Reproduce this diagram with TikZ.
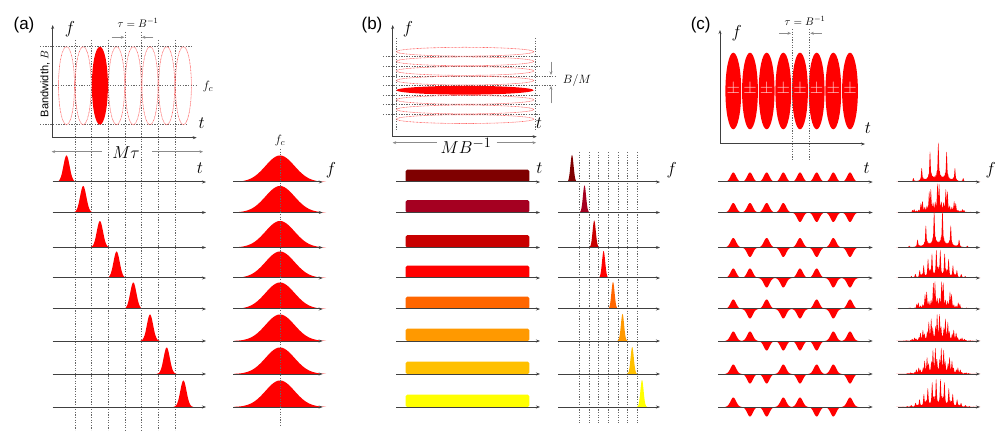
\documentclass[tikz,border=0pt]{standalone}
\usepackage{fontspec}
\setsansfont{Liberation Sans}
\usetikzlibrary{arrows.meta}
\definecolor{rA}{HTML}{7F0000}
\definecolor{rB}{HTML}{A50021}
\definecolor{rC}{HTML}{C80000}
\definecolor{rD}{HTML}{FF0000}
\definecolor{rE}{HTML}{FF6600}
\definecolor{rF}{HTML}{FF9900}
\definecolor{rG}{HTML}{FFC000}
\definecolor{rH}{HTML}{FFFF00}
\definecolor{axgray}{HTML}{404040}
\definecolor{pm}{RGB}{255,200,200}
\tikzset{
  ax/.style={draw=axgray, line width=1pt, -{Stealth[length=4pt,width=3pt]}},
  gridl/.style={draw=black!60, dash pattern=on 1.3pt off 1.3pt, line width=0.5pt},
  ell/.style={draw=red!60, dash pattern=on 0.8pt off 0.6pt, line width=0.6pt},
  gar/.style={draw=black!45, line width=0.6pt, -{Stealth[length=3.5pt,width=3pt]}},
  panel/.style={font=\sffamily\fontsize{17}{17}\selectfont, inner sep=0pt},
  axl/.style={font=\fontsize{17}{17}\selectfont, inner sep=0pt},
  biglbl/.style={font=\fontsize{19}{19}\selectfont, inner sep=1pt, fill=white},
  smalllbl/.style={font=\fontsize{11}{11}\selectfont, inner sep=0pt},
}
\newcommand\walshrow[9]{%
  \foreach \s [count=\k from 0] in {#2,#3,#4,#5,#6,#7,#8,#9}{%
    \pgfmathsetmacro\cx{733.3+16.67*\k}
    \fill[red] plot[domain=-8.5:8.5,samples=35] ({\cx+\x},{#1-9.5*(\s)*exp(-0.5*(\x/2.8)*(\x/2.8))}) -- cycle;
  }
  \pgfmathsetmacro\cA{0.9*((#2)*(#3)+(#3)*(#4)+(#4)*(#5)+(#5)*(#6)+(#6)*(#7)+(#7)*(#8)+(#8)*(#9))}
  \pgfmathsetmacro\cB{0.81*((#2)*(#4)+(#3)*(#5)+(#4)*(#6)+(#5)*(#7)+(#6)*(#8)+(#7)*(#9))}
  \pgfmathsetmacro\cC{0.729*((#2)*(#5)+(#3)*(#6)+(#4)*(#7)+(#5)*(#8)+(#6)*(#9))}
  \pgfmathsetmacro\cD{0.656*((#2)*(#6)+(#3)*(#7)+(#4)*(#8)+(#5)*(#9))}
  \pgfmathsetmacro\cE{0.59*((#2)*(#7)+(#3)*(#8)+(#4)*(#9))}
  \pgfmathsetmacro\cF{0.531*((#2)*(#8)+(#3)*(#9))}
  \pgfmathsetmacro\cG{0.478*((#2)*(#9))}
  \fill[red] plot[domain=-42:42,samples=841] ({938.3+\x},{#1-5.6*exp(-0.26*(\x/8.33)*(\x/8.33))*sqrt(max(0.0001,8+2*(
     \cA*cos(43.22*\x)+\cB*cos(86.44*\x)+\cC*cos(129.66*\x)+\cD*cos(172.88*\x)+\cE*cos(216.1*\x)+\cF*cos(259.32*\x)+\cG*cos(302.54*\x))))}) -- cycle;
  \draw[ax] (718.3,#1) -- (872.7,#1);
  \draw[ax] (898.3,#1) -- (980,#1);
}
\begin{document}
\begin{tikzpicture}[x=1pt,y=-1pt]
\useasboundingbox (0,0) rectangle (1003,435);

%% ================= Panel (a) =================
\node[panel] (la) at (24,25) {(a)};
% grid
\draw[gridl] (40,46.7) -- (193,46.7);
\draw[gridl] (52.7,85.7) -- (198,85.7);
\draw[gridl] (40,124.3) -- (187,124.3);
\foreach \j in {0,...,6}{
  \pgfmathsetmacro\gx{74.85+16.7*\j}
  \ifnum\j=3 \def\ys{32}\else\ifnum\j=4 \def\ys{32}\else\def\ys{40}\fi\fi
  \draw[gridl] (\gx,\ys) -- (\gx,430);
}
% ellipses
\foreach \i in {0,...,7}{
  \pgfmathsetmacro\cx{66.5+16.7*\i}
  \ifnum\i=2
    \fill[red] (\cx,85.7) ellipse [x radius=8, y radius=39];
  \else
    \draw[ell] (\cx,85.7) ellipse [x radius=8, y radius=39];
  \fi
}
\coordinate (aO) at (52.7,137.7);
\coordinate (aY) at (52.7,25);
\coordinate (aX) at (196.7,137.7);
\draw[ax] (aO) -- (aY);
\draw[ax] (aO) -- (aX);
\node[axl] (af) at (70,29) {$f$};
\node[axl] (at) at (201.7,123) {$t$};
\node[font=\fontsize{13}{13}\selectfont, inner sep=0pt] (afc) at (208,87) {$f_c$};
\node[rotate=90, font=\sffamily\fontsize{11}{11}\selectfont, inner sep=0pt] (abw) at (45,84) {Bandwidth, $B$};
\node[smalllbl] (atau) at (138,23) {$\tau = B^{-1}$};
\coordinate (ta1) at (111.7,37.3); \coordinate (ta2) at (124.3,37.3);
\coordinate (tb1) at (153.3,37.3); \coordinate (tb2) at (141.9,37.3);
\draw[gar] (ta1) -- (ta2);
\draw[gar] (tb1) -- (tb2);
% M tau
\node[biglbl] (aMt) at (126,153) {$M\tau$};
\coordinate (am1) at (101.7,151.7); \coordinate (am2) at (51.7,151.7);
\coordinate (am3) at (152,151.7); \coordinate (am4) at (203,151.7);
\draw[gar] (am1) -- (am2);
\draw[gar] (am3) -- (am4);
% rows
\node[font=\fontsize{13}{13}\selectfont, inner sep=0pt] (afc2) at (280,141) {$f_c$};
\foreach \y [count=\i from 0] in {182,212.5,247.5,278,309,341,374,407}{
  \pgfmathsetmacro\cx{66.5+16.7*\i}
  \fill[red] plot[domain=-10:10,samples=41] ({\cx+\x},{\y-26.5*exp(-0.5*(\x/3.1)*(\x/3.1))}) -- cycle;
  \draw[ax] (52.7,\y) -- (206,\y);
  \fill[red] plot[domain=-46:46,samples=93] ({280+\x},{\y-26.5*exp(-0.5*(\x/14.5)*(\x/14.5))}) -- cycle;
  \draw[ax] (233,\y) -- (322.7,\y);
}
\draw[gridl] (280,149) -- (280,427);
\node[axl] (at2) at (200,168) {$t$};
\node[axl] (af2) at (331,170) {$f$};

%% ================= Panel (b) =================
\node[panel] (lb) at (372,25) {(b)};
\foreach \j in {0,...,6}{
  \pgfmathsetmacro\gy{56.5+9.63*\j}
  \ifnum\j=2 \def\xe{556}\else\ifnum\j=3 \def\xe{556}\else\def\xe{540}\fi\fi
  \draw[gridl] (383,\gy) -- (\xe,\gy);
}
\draw[gridl] (396,38) -- (396,130);
\draw[gridl] (535,38) -- (535,130);
\foreach \i in {0,...,7}{
  \pgfmathsetmacro\cy{51.7+9.63*\i}
  \ifnum\i=4
    \fill[red] (465,\cy) ellipse [x radius=68.7, y radius=4.4];
  \else
    \draw[ell] (465,\cy) ellipse [x radius=68.7, y radius=4.4];
  \fi
}
\coordinate (bO) at (392.7,136.7);
\coordinate (bY) at (392.7,25);
\coordinate (bX) at (536.7,136.7);
\draw[ax] (bO) -- (bY);
\draw[ax] (bO) -- (bX);
\node[axl] (bf) at (408,29) {$f$};
\node[axl] (bt) at (539,123) {$t$};
\coordinate (bm1) at (551,61.7); \coordinate (bm2) at (551,75);
\coordinate (bm3) at (551,103.3); \coordinate (bm4) at (551,86);
\draw[gar] (bm1) -- (bm2);
\draw[gar] (bm3) -- (bm4);
\node[font=\fontsize{12}{12}\selectfont, inner sep=0pt] (bBM) at (577,81) {$B/M$};
\node[biglbl] (bMB) at (466,146) {$MB^{-1}$};
\coordinate (bw1) at (436.7,142.7); \coordinate (bw2) at (392.7,142.7);
\coordinate (bw3) at (496.7,142.7); \coordinate (bw4) at (536,142.7);
\draw[gar] (bw1) -- (bw2);
\draw[gar] (bw3) -- (bw4);
% rows
\foreach \j in {0,...,6}{
  \pgfmathsetmacro\gx{579.3+9.67*\j}
  \draw[gridl] (\gx,152) -- (\gx,423);
}
\foreach \y/\col/\c [count=\i from 0] in {182/rA/572,212.5/rB/584.5,247.5/rC/594.2,278/rD/603.6,309/rE/613,341/rF/622.5,374/rG/632.2,407/rH/642}{
  \fill[\col, rounded corners=1.5pt] (405.7,\y-12.3) rectangle (529.3,\y);
  \draw[ax] (396,\y) -- (540,\y);
  \fill[\col] plot[domain=-5.5:5.5,samples=45] ({\c+\x},{\y-27*exp(-0.5*(\x/1.6)*(\x/1.6))}) -- cycle;
  \draw[ax] (558.3,\y) -- (660,\y);
}
\node[axl] (bt2) at (539.3,168.3) {$t$};
\node[axl] (bf2) at (671.7,170) {$f$};

%% ================= Panel (c) =================
\node[panel] (lc) at (700.7,25) {(c)};
\foreach \i in {0,...,7}{
  \pgfmathsetmacro\cx{733.3+16.67*\i}
  \fill[red] (\cx,91) ellipse [x radius=7.9, y radius=38.3];
  \node[text=pm, font=\fontsize{19}{19}\selectfont, inner sep=0pt] (pm\i) at (\cx,89.3) {$\pm$};
}
\draw[gridl] (792.3,29) -- (792.3,160);
\draw[gridl] (809,29) -- (809,160);
\coordinate (cO) at (720,144);
\coordinate (cY) at (720,30);
\coordinate (cX) at (865,144);
\draw[ax] (cO) -- (cY);
\draw[ax] (cO) -- (cX);
\node[axl] (cf) at (736.7,33) {$f$};
\node[axl] (ct) at (868,128.3) {$t$};
\node[smalllbl] (ctau) at (805,20.7) {$\tau = B^{-1}$};
\coordinate (ct1) at (779.3,33.3); \coordinate (ct2) at (791,33.3);
\coordinate (ct3) at (821.7,33.3); \coordinate (ct4) at (810.3,33.3);
\draw[gar] (ct1) -- (ct2);
\draw[gar] (ct3) -- (ct4);
% rows
\walshrow{182}{1}{1}{1}{1}{1}{1}{1}{1}
\walshrow{212.5}{1}{1}{1}{1}{-1}{-1}{-1}{-1}
\walshrow{247.5}{1}{-1}{1}{-1}{1}{-1}{1}{-1}
\walshrow{278}{1}{1}{-1}{-1}{1}{1}{-1}{-1}
\walshrow{309}{1}{-1}{1}{-1}{-1}{1}{-1}{1}
\walshrow{341}{1}{1}{-1}{-1}{-1}{-1}{1}{1}
\walshrow{374}{1}{-1}{-1}{1}{-1}{1}{1}{-1}
\walshrow{407}{1}{-1}{-1}{1}{1}{-1}{-1}{1}
\node[axl] (ct2l) at (866.7,168.3) {$t$};
\node[axl] (cf2l) at (990.7,170) {$f$};
\end{tikzpicture}
\end{document}
